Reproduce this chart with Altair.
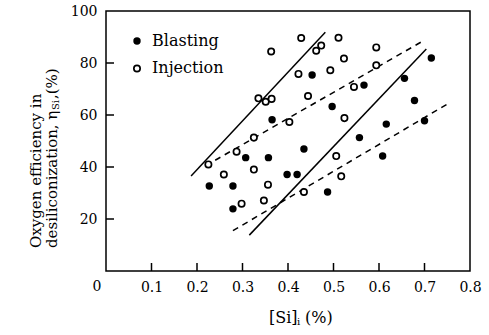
import altair as alt
import pandas as pd

# ---- data ----
blast_x = [0.227, 0.279, 0.279, 0.307, 0.357, 0.365, 0.398, 0.420, 0.435, 0.453,
           0.487, 0.497, 0.557, 0.567, 0.608, 0.616, 0.656, 0.678, 0.700, 0.715]
blast_y = [32.7, 32.7, 23.9, 43.6, 43.6, 58.2, 37.1, 37.1, 46.9, 75.4,
           30.4, 63.3, 51.3, 71.5, 44.2, 56.5, 74.1, 65.6, 57.8, 81.9]

inj_x = [0.225, 0.259, 0.287, 0.298, 0.325, 0.325, 0.347, 0.356, 0.335, 0.351,
         0.364, 0.363, 0.403, 0.423, 0.429, 0.435, 0.444, 0.462, 0.473, 0.493,
         0.506, 0.511, 0.517, 0.523, 0.524, 0.545, 0.594, 0.594]
inj_y = [41.0, 37.1, 45.9, 25.9, 51.3, 39.0, 27.1, 33.2, 66.4, 65.1,
         66.2, 84.4, 57.3, 75.8, 89.6, 30.4, 67.3, 84.7, 86.7, 77.2,
         44.2, 89.7, 36.4, 81.7, 58.8, 70.8, 86.0, 79.1]

solid_seg = ["A", "A", "B", "B"]
solid_x = [0.187, 0.482, 0.315, 0.704]
solid_y = [36.5, 91.8, 13.8, 85.4]

dash_seg = ["U", "U", "L", "L"]
dash_x = [0.219, 0.695, 0.279, 0.755]
dash_y = [40.5, 88.3, 15.5, 64.7]

x_tick_values = [0.1, 0.2, 0.3, 0.4, 0.5, 0.6, 0.7, 0.8]
y_tick_values = [20, 40, 60, 80, 100]
x_inner_ticks = [0.1, 0.2, 0.3, 0.4, 0.5, 0.6, 0.7]
y_inner_ticks = [20, 40, 60, 80]

W, H = 364, 260
FONT = "DejaVu Serif"

blast = pd.DataFrame({"x": blast_x, "y": blast_y})
inj = pd.DataFrame({"x": inj_x, "y": inj_y})
solid = pd.DataFrame({"seg": solid_seg, "x": solid_x, "y": solid_y})
dash = pd.DataFrame({"seg": dash_seg, "x": dash_x, "y": dash_y})
xt = pd.DataFrame({"v": x_inner_ticks})
yt = pd.DataFrame({"v": y_inner_ticks})

xscale = alt.Scale(domain=[0, 0.8], nice=False, zero=False)
yscale = alt.Scale(domain=[0, 100], nice=False, zero=False)
xaxis = alt.Axis(values=x_tick_values, format=".1f", ticks=False, domain=False, grid=False,
                 title=None, labelFont=FONT, labelFontSize=14, labelPadding=9,
                 labelColor="black", labelFlush=False)
yaxis = alt.Axis(values=y_tick_values, ticks=False, domain=False, grid=False, title=None,
                 labelFont=FONT, labelFontSize=14, labelPadding=9, labelColor="black")

X = alt.X("x:Q", scale=xscale, axis=xaxis)
Y = alt.Y("y:Q", scale=yscale, axis=yaxis)

solid_layer = alt.Chart(solid).mark_line(color="black", strokeWidth=1.5).encode(x=X, y=Y, detail="seg:N")
dash_layer = alt.Chart(dash).mark_line(color="black", strokeWidth=1.5, strokeDash=[6, 5]).encode(
    x=X, y=Y, detail="seg:N")
blast_layer = alt.Chart(blast).mark_circle(size=55, color="black", opacity=1).encode(x=X, y=Y)
inj_layer = alt.Chart(inj).mark_point(shape="circle", size=40, filled=True, fill="white",
                                      stroke="black", strokeWidth=1.7, opacity=1).encode(x=X, y=Y)

xtick_layer = alt.Chart(xt).mark_rule(color="black", strokeWidth=1.5).encode(
    x=alt.X("v:Q", scale=xscale, axis=xaxis), y=alt.value(H - 8), y2=alt.value(H))
ytick_layer = alt.Chart(yt).mark_rule(color="black", strokeWidth=1.5).encode(
    y=alt.Y("v:Q", scale=yscale, axis=yaxis), x=alt.value(0), x2=alt.value(8))

one = alt.Data(values=[{}])


def txt(s, x, y, size=16, align="left", baseline="middle", angle=0):
    kw = dict(text=s, font=FONT, fontSize=size, align=align, baseline=baseline, color="black")
    if angle:
        kw["angle"] = angle
    return alt.Chart(one).mark_text(**kw).encode(x=alt.value(x), y=alt.value(y))


# legend
leg_f = alt.Chart(one).mark_circle(size=55, color="black", opacity=1).encode(
    x=alt.value(31), y=alt.value(30))
leg_o = alt.Chart(one).mark_point(shape="circle", size=40, filled=True, fill="white",
                                  stroke="black", strokeWidth=1.7, opacity=1).encode(
    x=alt.value(31), y=alt.value(57.5))
leg_t1 = txt("Blasting", 46, 35, size=16, baseline="alphabetic")
leg_t2 = txt("Injection", 46, 62, size=16, baseline="alphabetic")

zero_lbl = txt("0", -9, 276, size=14, align="center")

# y title (rotated)
yt1 = txt("Oxygen efficiency in", -70, 237, size=15, angle=270)
yt2a = txt("desiliconization, η", -54, 237, size=15, angle=270)
yt2b = txt("Si", -50, 99, size=10, angle=270)
yt2c = txt(",(%)", -54, 88, size=15, angle=270)

# x title
xt1 = txt("[Si]", 163, 307, baseline="middle")
xt2 = txt("i", 191, 311, size=10)
xt3 = txt("(%)", 199, 307)

chart = alt.layer(
    solid_layer, dash_layer, inj_layer, blast_layer, xtick_layer, ytick_layer,
    leg_f, leg_o, leg_t1, leg_t2, zero_lbl, yt1, yt2a, yt2b, yt2c, xt1, xt2, xt3
).properties(
    width=W, height=H,
    autosize=alt.AutoSizeParams(type="none"),
    padding={"left": 106, "top": 11, "right": 489 - 106 - W, "bottom": 335 - 11 - H},
    background="white",
).configure_view(stroke="black", strokeWidth=1.5)

chart.save("out.html", embed_options={"renderer": "svg", "actions": False})
